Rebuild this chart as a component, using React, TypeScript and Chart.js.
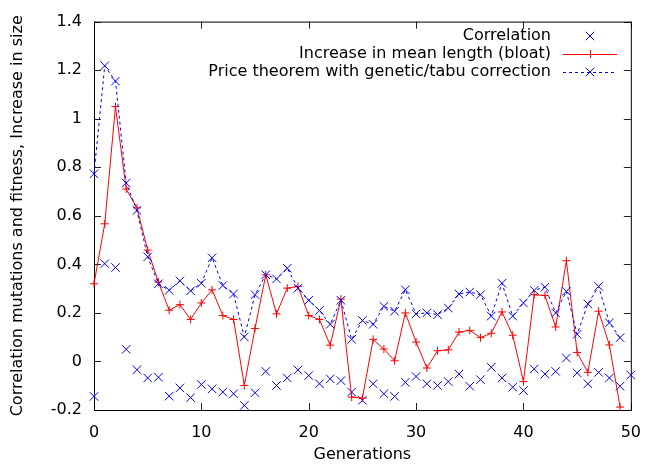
import React, { useEffect, useRef } from "react";
import { Chart, registerables } from "chart.js";

Chart.register(...registerables);

// Generation-indexed values
const correlation = [
  -0.144, 0.403, 0.387, 0.05, -0.034, -0.068, -0.065, -0.143, -0.109, -0.149,
  -0.095, -0.113, -0.126, -0.133, -0.181, -0.129, -0.041, -0.099, -0.068, -0.035,
  -0.058, -0.092, -0.072, -0.079, -0.126, -0.16, -0.092, -0.133, -0.144, -0.086,
  -0.062, -0.092, -0.099, -0.083, -0.052, -0.102, -0.075, -0.024, -0.068, -0.106,
  -0.12, -0.031, -0.052, -0.041, 0.014, -0.047, -0.092, -0.045, -0.068, -0.102,
  -0.056,
];

const bloat = [
  0.32, 0.567, 1.05, 0.71, 0.633, 0.459, 0.327, 0.211, 0.234, 0.173,
  0.241, 0.295, 0.189, 0.173, -0.099, 0.136, 0.357, 0.196, 0.302, 0.309,
  0.189, 0.173, 0.067, 0.257, -0.147, -0.151, 0.091, 0.051, 0.003, 0.2,
  0.08, -0.027, 0.044, 0.048, 0.121, 0.128, 0.098, 0.116, 0.204, 0.108,
  -0.083, 0.275, 0.272, 0.142, 0.415, 0.037, -0.045, 0.207, 0.068, -0.188,
];

const price = [
  0.773, 1.218, 1.155, 0.735, 0.622, 0.431, 0.32, 0.293, 0.332, 0.291,
  0.322, 0.427, 0.313, 0.278, 0.101, 0.275, 0.357, 0.34, 0.384, 0.302,
  0.252, 0.21, 0.153, 0.252, 0.091, 0.169, 0.153, 0.227, 0.207, 0.295,
  0.196, 0.2, 0.193, 0.22, 0.278, 0.286, 0.275, 0.187, 0.322, 0.187,
  0.241, 0.293, 0.306, 0.2, 0.289, 0.112, 0.237, 0.309, 0.159, 0.098,
];

const seriesLabels = [
  "Correlation",
  "Increase in mean length (bloat)",
  "Price theorem with genetic/tabu correction",
];
const xTickValues = [0, 10, 20, 30, 40, 50];
const yTickValues = [-0.2, 0, 0.2, 0.4, 0.6, 0.8, 1, 1.2, 1.4];

const BLUE = "#0000ff";
const RED = "#ff0000";
const FONT_FAMILY = '"DejaVu Sans", "Liberation Sans", sans-serif';
const FONT_SIZE = 16;

const framePlugin = {
  id: "gnuFrame",
  beforeDatasetsDraw(chart: any) {
    const { ctx, chartArea: a, scales } = chart;
    const xs = scales.x;
    const ys = scales.y;
    const L = 7;
    ctx.save();
    ctx.strokeStyle = "#222";
    ctx.lineWidth = 1;
    ctx.beginPath();
    for (const v of xTickValues) {
      const px = Math.round(xs.getPixelForValue(v)) + 0.5;
      ctx.moveTo(px, a.bottom);
      ctx.lineTo(px, a.bottom - L);
      ctx.moveTo(px, a.top);
      ctx.lineTo(px, a.top + L);
    }
    for (const v of yTickValues) {
      const py = Math.round(ys.getPixelForValue(v)) + 0.5;
      ctx.moveTo(a.left, py);
      ctx.lineTo(a.left + L, py);
      ctx.moveTo(a.right, py);
      ctx.lineTo(a.right - L, py);
    }
    ctx.stroke();
    ctx.strokeStyle = "#000";
    ctx.strokeRect(a.left + 0.5, a.top + 0.5, a.right - a.left, a.bottom - a.top);
    ctx.restore();
  },
};

function drawCrossRot(ctx: CanvasRenderingContext2D, x: number, y: number, r: number) {
  const o = r * Math.SQRT1_2;
  ctx.beginPath();
  ctx.moveTo(x - o, y - o);
  ctx.lineTo(x + o, y + o);
  ctx.moveTo(x - o, y + o);
  ctx.lineTo(x + o, y - o);
  ctx.stroke();
}

const legendPlugin = {
  id: "gnuLegend",
  afterDatasetsDraw(chart: any) {
    const { ctx } = chart;
    const textRight = 551;
    const x0 = 563;
    const x1 = 617;
    const xm = 590;
    const rows = [36, 54, 72];
    ctx.save();
    ctx.font = `${FONT_SIZE}px ${FONT_FAMILY}`;
    ctx.fillStyle = "#000";
    ctx.textAlign = "right";
    ctx.textBaseline = "middle";
    seriesLabels.forEach((t, i) => ctx.fillText(t, textRight, rows[i]));
    ctx.lineWidth = 1;
    ctx.strokeStyle = BLUE;
    drawCrossRot(ctx, xm, rows[0], 6);
    ctx.strokeStyle = RED;
    ctx.beginPath();
    ctx.moveTo(x0, rows[1] + 0.5);
    ctx.lineTo(x1, rows[1] + 0.5);
    ctx.moveTo(xm + 0.5, rows[1] - 4);
    ctx.lineTo(xm + 0.5, rows[1] + 4);
    ctx.stroke();
    ctx.strokeStyle = BLUE;
    ctx.setLineDash([3, 3]);
    ctx.beginPath();
    ctx.moveTo(x0, rows[2] + 0.5);
    ctx.lineTo(x1, rows[2] + 0.5);
    ctx.stroke();
    ctx.setLineDash([]);
    drawCrossRot(ctx, xm, rows[2], 6);
    ctx.restore();
  },
};

const fmt = (v: number) => {
  const r = Math.round(v * 10) / 10;
  return String(r === 0 ? 0 : r);
};

export default function App() {
  const canvasRef = useRef<HTMLCanvasElement | null>(null);

  useEffect(() => {
    const canvas = canvasRef.current;
    if (!canvas) return;
    const font = { family: FONT_FAMILY, size: FONT_SIZE };
    const chart = new Chart(canvas, {
      type: "line",
      data: {
        datasets: [
          {
            label: seriesLabels[0],
            data: correlation.map((y, i) => ({ x: i, y })),
            showLine: false,
            pointStyle: "crossRot",
            pointRadius: 6,
            pointBorderWidth: 1,
            borderColor: BLUE,
            backgroundColor: BLUE,
            clip: false,
            order: 3,
          },
          {
            label: seriesLabels[1],
            data: bloat.map((y, i) => ({ x: i, y })),
            borderColor: RED,
            backgroundColor: RED,
            borderWidth: 1,
            pointStyle: "cross",
            pointRadius: 4,
            pointBorderWidth: 1,
            tension: 0,
            clip: false,
            order: 2,
          },
          {
            label: seriesLabels[2],
            data: price.map((y, i) => ({ x: i, y })),
            borderColor: BLUE,
            backgroundColor: BLUE,
            borderWidth: 1,
            borderDash: [3, 3],
            pointStyle: "crossRot",
            pointRadius: 6,
            pointBorderWidth: 1,
            tension: 0,
            clip: false,
            order: 1,
          },
        ],
      },
      options: {
        responsive: false,
        animation: false,
        devicePixelRatio: 1,
        layout: { padding: { top: 18, right: 15, left: 0, bottom: 0 } },
        plugins: {
          legend: { display: false },
          tooltip: { enabled: false },
        },
        scales: {
          x: {
            type: "linear",
            min: 0,
            max: 50,
            ticks: { stepSize: 10, font, color: "#000", padding: 13, callback: (v: any) => fmt(Number(v)) },
            grid: { display: false, drawTicks: false },
            border: { display: false },
            title: {
              display: true,
              text: "Generations",
              font,
              color: "#000",
              padding: { top: 0, bottom: 0 },
            },
            afterFit: (s: any) => {
              s.height = 464 - 410;
            },
          },
          y: {
            type: "linear",
            min: -0.2,
            max: 1.4,
            ticks: { stepSize: 0.2, font, color: "#000", padding: 12, callback: (v: any) => fmt(Number(v)) },
            grid: { display: false, drawTicks: false },
            border: { display: false },
            title: {
              display: true,
              text: "Correlation mutations and fitness, Increase in size",
              font,
              color: "#000",
              padding: { top: 8, bottom: 0 },
            },
            afterFit: (s: any) => {
              s.width = 94;
            },
          },
        },
      },
      plugins: [framePlugin, legendPlugin],
    } as any);
    return () => chart.destroy();
  }, []);

  return (
    <div
      style={{
        position: "fixed",
        left: 0,
        top: 0,
        width: 654,
        height: 464,
        background: "#fff",
      }}
    >
      <canvas ref={canvasRef} width={654} height={464} style={{ display: "block" }} />
    </div>
  );
}
